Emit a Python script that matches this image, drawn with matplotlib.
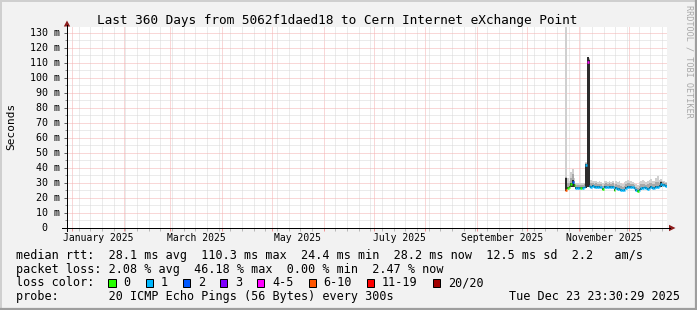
import numpy as np
import pandas as pd
import matplotlib
matplotlib.use('Agg')
import matplotlib.pyplot as plt
import matplotlib.dates as mdates
import matplotlib.transforms as mtransforms
from matplotlib.lines import Line2D
from matplotlib.patches import Polygon, Rectangle
from matplotlib.ticker import MultipleLocator

plt.rcParams['font.family'] = 'DejaVu Sans Mono'

# ---------------------------------------------------------------
# data: one value per day, Oct 24 .. Dec 23 2025
# ---------------------------------------------------------------
first_day = '2025-10-24'

median_ms = [25.5, 26.5, 27.5, 29.0, 30.5, 28.5, 26.8, 26.6, 26.7, 26.8,
             26.9, 27.0, 41.8, 110.3, 27.8, 27.6, 27.9, 27.4, 27.6, 27.2,
             27.5, 27.0, 26.0, 27.2, 27.4, 27.0, 27.6, 27.3, 27.5, 25.5,
             26.4, 26.2, 26.0, 25.3, 25.0, 25.4, 26.5, 27.3, 27.5, 27.2,
             27.0, 26.5, 25.2, 24.4, 25.5, 26.3, 26.8, 27.0, 26.5, 26.2,
             26.8, 27.2, 26.4, 26.6, 27.4, 27.6, 27.8, 29.5, 28.6, 28.4, 28.2]

# average number of lost pings (out of 20)
lost_pings = [8.0, 0.0, 0.0, 0.0, 1.6, 0.0, 0.4, 0.3, 0.4, 0.0,
              0.3, 0.4, 0.5, 4.5, 0.4, 0.3, 0.4, 0.5, 0.3, 0.4,
              0.3, 0.4, 0.0, 0.3, 0.4, 0.3, 0.5, 0.4, 0.3, 0.0,
              0.4, 0.3, 0.4, 0.5, 0.3, 0.4, 0.3, 0.4, 0.3, 0.5,
              0.4, 0.3, 0.4, 0.0, 0.3, 0.4, 0.5, 0.3, 0.4, 0.3,
              0.4, 0.3, 0.5, 0.4, 0.3, 0.4, 0.3, 0.5, 0.4, 0.3, 0.4]

# smoke: lowest ping, top of dark core, top of middle band, highest ping
ping_min = [24.8, 25.8, 26.8, 27.0, 27.5, 27.2, 26.1, 25.9, 26.0, 26.1,
            26.2, 26.3, 26.5, 27.0, 27.0, 26.9, 27.1, 26.7, 26.9, 26.5,
            26.8, 26.3, 25.3, 26.5, 26.7, 26.3, 26.9, 26.6, 26.8, 24.8,
            25.7, 25.5, 25.3, 24.6, 24.3, 24.7, 25.8, 26.6, 26.8, 26.5,
            26.3, 25.8, 24.5, 23.8, 24.8, 25.6, 26.1, 26.3, 25.8, 25.5,
            26.1, 26.5, 25.7, 25.9, 26.7, 26.9, 27.1, 27.5, 27.9, 27.7, 27.5]

dark_top = [33.0, 27.5, 28.2, 30.0, 32.0, 29.2, 27.4, 27.2, 27.3, 27.4,
            27.5, 27.6, 42.5, 113.6, 112.0, 28.2, 28.5, 28.0, 28.2, 27.8,
            28.1, 27.6, 26.6, 27.8, 28.0, 27.6, 28.2, 27.9, 28.1, 26.1,
            27.0, 26.8, 26.6, 25.9, 25.6, 26.0, 27.1, 27.9, 28.1, 27.8,
            27.6, 27.1, 25.8, 25.0, 26.1, 26.9, 27.4, 27.6, 27.1, 26.8,
            27.4, 27.8, 27.0, 27.2, 28.0, 28.2, 28.4, 30.5, 29.2, 29.0, 28.8]

mid_top = [34.0, 30.0, 29.8, 33.5, 36.0, 31.0, 28.8, 28.6, 28.8, 28.8,
           28.9, 29.0, 43.0, 113.8, 112.5, 30.0, 30.2, 29.6, 29.9, 29.3,
           29.6, 29.1, 28.2, 29.5, 29.8, 29.2, 29.7, 29.4, 29.7, 27.9,
           29.1, 28.6, 28.7, 27.9, 27.4, 28.0, 29.1, 29.8, 29.8, 29.5,
           29.2, 28.7, 27.4, 26.9, 28.2, 29.0, 29.5, 29.5, 28.9, 29.0,
           29.7, 30.1, 29.0, 29.2, 30.3, 30.8, 30.1, 31.3, 30.5, 30.1, 29.8]

ping_max = [140.0, 33.0, 31.5, 37.0, 39.0, 33.0, 29.8, 29.8, 30.2, 29.8,
            29.8, 30.2, 44.0, 114.0, 113.0, 31.8, 31.5, 31.0, 31.5, 30.6,
            31.0, 30.6, 30.0, 31.0, 31.5, 30.6, 31.0, 30.6, 31.0, 29.6,
            31.5, 30.6, 31.0, 30.0, 29.6, 30.6, 31.5, 32.0, 31.5, 31.0,
            30.6, 30.0, 29.0, 28.6, 30.6, 31.5, 32.0, 31.5, 30.6, 31.0,
            32.0, 32.5, 31.0, 31.5, 33.5, 34.5, 32.0, 32.5, 31.5, 31.0, 30.6]

# loss colour buckets: label, upper limit of lost pings, colour
loss_labels = ['0', '1', '2', '3', '4-5', '6-10', '11-19', '20/20']
loss_upper = [0, 1, 2, 3, 5, 10, 19, 20]
loss_colors = ['#26ff00', '#00b8ff', '#0059ff', '#7e00ff', '#ff00ff',
               '#ff5500', '#ff0000', '#a10000']

title = 'Last 360 Days from 5062f1daed18 to Cern Internet eXchange Point'
stats_rtt = 'median rtt:  28.1 ms avg  110.3 ms max  24.4 ms min  28.2 ms now  12.5 ms sd  2.2   am/s'
stats_loss = 'packet loss: 2.08 % avg  46.18 % max  0.00 % min  2.47 % now'
probe_text = 'probe:       20 ICMP Echo Pings (56 Bytes) every 300s'
stamp = 'Tue Dec 23 23:30:29 2025'

t_start = pd.Timestamp('2024-12-28 23:30:29')
t_end = pd.Timestamp('2025-12-23 23:30:29')

# ---------------------------------------------------------------
W, H = 697, 310
BG = '#f2f2f2'
fig = plt.figure(figsize=(W / 100, H / 100), dpi=100, facecolor=BG)


def fx(px):
    return px / W


def fy(py):
    return 1 - py / H


ax = fig.add_axes([fx(67), fy(228), (667 - 67) / W, (228 - 27.3) / H])
ax.set_facecolor('white')
for s in ax.spines.values():
    s.set_visible(False)

ax.set_xlim(mdates.date2num(t_start), mdates.date2num(t_end))
ax.set_ylim(0, 133.5)

ax.xaxis.set_major_locator(mdates.MonthLocator())
ax.xaxis.set_minor_locator(mdates.WeekdayLocator(byweekday=mdates.SU))
ax.yaxis.set_major_locator(MultipleLocator(10))
ax.yaxis.set_minor_locator(MultipleLocator(5))
ax.set_axisbelow(True)
ax.grid(which='major', color='#f4b0b0', linestyle=(0, (1, 1)), linewidth=0.72)
ax.grid(which='minor', color='#d8d8d8', linestyle=(0, (1, 1)), linewidth=0.72)
ax.tick_params(axis='x', which='major', direction='out', length=2, width=0.72,
               color='#f09494', labelbottom=False)
ax.tick_params(axis='x', which='minor', direction='out', length=2, width=0.72,
               color='#b8b8b8')
ax.tick_params(axis='y', which='major', direction='out', length=2.2, width=0.72,
               color='#606060', labelleft=False)
ax.tick_params(axis='y', which='minor', direction='out', length=1.4, width=0.72,
               color='#909090')

# smoke
edges = pd.date_range(first_day, periods=len(median_ms) + 1, freq='D')
xe = mdates.date2num(edges)


def ext(a):
    return np.append(a, a[-1])


ax.fill_between(xe, ext(ping_min), ext(ping_max), step='post', color='#d0d0d0',
                lw=0, zorder=2)
ax.fill_between(xe, ext(ping_min), ext(mid_top), step='post', color='#a8a8a8',
                lw=0, zorder=3)
ax.fill_between(xe, ext(ping_min), ext(dark_top), step='post', color='#2c2c2c',
                lw=0, zorder=4)

# median, one short segment per day coloured by loss
bucket = [next(i for i, u in enumerate(loss_upper) if l <= u)
          for l in lost_pings]
seg_colors = [loss_colors[b] for b in bucket]
ax.hlines(median_ms, xe[:-1], xe[1:], colors=seg_colors, lw=1.8, zorder=5)

# y tick labels (rrdtool style, right aligned)
ytr = mtransforms.blended_transform_factory(fig.transFigure, ax.transData)
for v in range(0, 131, 10):
    if v == 0:
        ax.text(fx(47.6), v, '0', transform=ytr, ha='right', va='center',
                fontsize=7.2)
    else:
        ax.text(fx(59.6), v, '%d m' % v, transform=ytr, ha='right',
                va='center', fontsize=7.2)

# x labels centred on the month they name
xtr = mtransforms.blended_transform_factory(ax.transData, fig.transFigure)
for m in ['2025-01', '2025-03', '2025-05', '2025-07', '2025-09', '2025-11']:
    a = pd.Timestamp(m + '-01')
    b = a + pd.offsets.MonthBegin(1)
    mid = a + (b - a) / 2
    ax.text(mdates.date2num(mid), fy(240.6), a.strftime('%B %Y'),
            transform=xtr, ha='center', va='baseline', fontsize=7)

# axis lines and arrows
fig.add_artist(Line2D([fx(62), fx(670)], [fy(228), fy(228)], color='black',
                      lw=0.72))
fig.add_artist(Line2D([fx(67), fx(67)], [fy(231), fy(25)], color='black',
                      lw=0.72))
arrow_col = '#8c1c1c'
fig.add_artist(Polygon([[fx(669), fy(224.8)], [fx(669), fy(231.2)],
                        [fx(675.5), fy(228)]], closed=True, color=arrow_col,
                       lw=0))
fig.add_artist(Polygon([[fx(63.8), fy(26.5)], [fx(70.2), fy(26.5)],
                        [fx(67), fy(20.5)]], closed=True, color=arrow_col,
                       lw=0))

# texts
fig.text(fx(337), fy(24), title, ha='center', va='baseline', fontsize=9.2)
fig.text(fx(10.8), fy(126.5), 'Seconds', rotation=90, ha='center',
         va='center', fontsize=8)
fig.text(fx(689), fy(61.5), 'RRDTOOL / TOBI OETIKER', rotation=270,
         ha='center', va='center', fontsize=6.1, color='#a8a8a8')

fs = 8.5
cw = 7.11
fig.text(fx(16), fy(258.5), stats_rtt, ha='left', va='baseline', fontsize=fs)
fig.text(fx(16), fy(272.5), stats_loss, ha='left', va='baseline', fontsize=fs)
fig.text(fx(16), fy(286.5), 'loss color:', ha='left', va='baseline',
         fontsize=fs)
bx = 108.3
for lab, col in zip(loss_labels, loss_colors):
    fig.add_artist(Rectangle((fx(bx), fy(286.5)), 7.2 / W, 7.4 / H,
                             facecolor=col, edgecolor='black', lw=0.72))
    fig.text(fx(bx + 15), fy(286.5), lab, ha='left', va='baseline',
             fontsize=fs)
    bx += 30.1 + len(lab) * cw
fig.text(fx(16), fy(300.3), probe_text, ha='left', va='baseline', fontsize=fs)
fig.text(fx(680), fy(300.3), stamp, ha='right', va='baseline', fontsize=fs)

# 3d-ish frame
fig.add_artist(Line2D([0, 1], [fy(0.8), fy(0.8)], color='#cfcfcf', lw=1.4))
fig.add_artist(Line2D([fx(0.8), fx(0.8)], [0, 1], color='#cfcfcf', lw=1.4))
fig.add_artist(Line2D([0, 1], [fy(308.8), fy(308.8)], color='#9e9e9e', lw=1.6))
fig.add_artist(Line2D([fx(696.2), fx(696.2)], [0, 1], color='#9e9e9e', lw=1.6))

fig.savefig('out.png', dpi=100, facecolor=BG)
